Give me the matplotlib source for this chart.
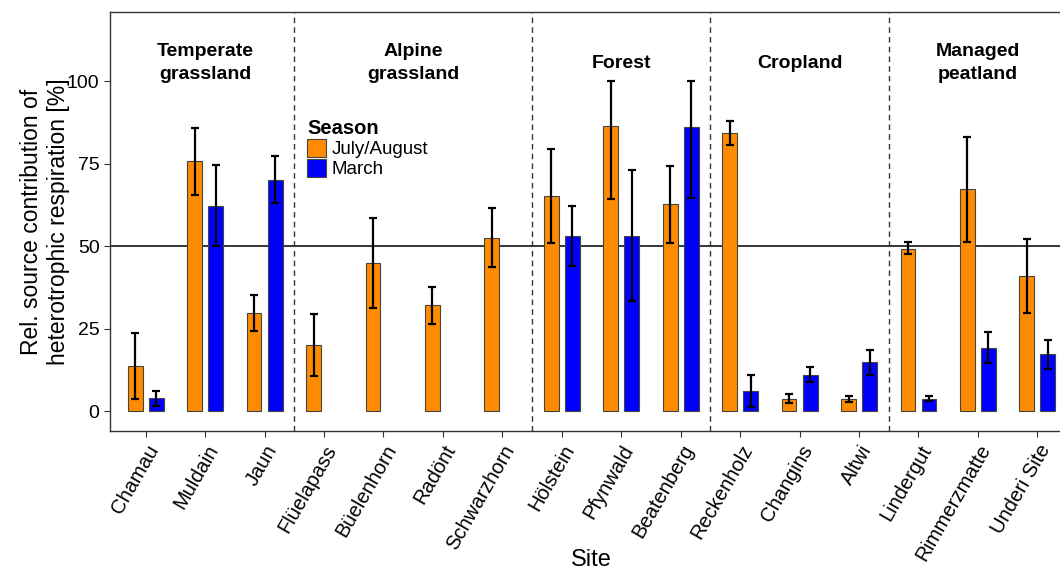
import matplotlib.pyplot as plt
import numpy as np

# data
sites = ["Chamau", "Muldain", "Jaun", "Flüelapass", "Büelenhorn", "Radönt",
         "Schwarzhorn", "Hölstein", "Pfynwald", "Beatenberg", "Reckenholz",
         "Changins", "Altwi", "Lindergut", "Rimmerzmatte", "Underi Site"]
groups = ["Temperate\ngrassland", "Alpine\ngrassland", "Forest", "Cropland", "Managed\npeatland"]
group_sizes = [3, 4, 3, 3, 3]

# July/August
summer = [13.8, 75.7, 29.9, 20.0, 45.0, 32.1, 52.6, 65.2, 86.4, 62.7, 84.4, 3.8, 3.7, 49.3, 67.2, 41.1]
summer_lo = [3.7, 65.6, 24.4, 10.8, 31.4, 26.5, 43.8, 51.0, 64.4, 51.0, 80.8, 2.4, 2.8, 47.6, 51.3, 29.8]
summer_hi = [23.8, 85.8, 35.2, 29.4, 58.6, 37.7, 61.6, 79.5, 100.0, 74.3, 88.1, 5.1, 4.5, 51.2, 83.2, 52.2]

# March (nan = no measurement)
march = [3.9, 62.3, 70.2, np.nan, np.nan, np.nan, np.nan, 53.1, 53.1, 86.0, 6.2, 11.0, 14.9, 3.8, 19.3, 17.2]
march_lo = [1.7, 50.0, 63.2, np.nan, np.nan, np.nan, np.nan, 44.0, 33.4, 64.6, 1.4, 8.7, 11.1, 3.1, 14.5, 12.9]
march_hi = [6.1, 74.7, 77.5, np.nan, np.nan, np.nan, np.nan, 62.3, 73.0, 100.0, 10.9, 13.5, 18.7, 4.5, 24.1, 21.5]


def main():
    plt.rcParams['font.family'] = ['Liberation Sans', 'DejaVu Sans']

    fig = plt.figure(figsize=(10.6, 5.71), dpi=100)
    ax = fig.add_axes([0.1038, 0.2452, 0.9085, 0.7338])

    x = np.arange(len(sites))
    w = 0.25
    off = 0.177
    s = np.array(summer)
    m = np.array(march)

    ax.axhline(50, color='black', lw=1.1, zorder=1)

    ax.bar(x - off, s, width=w, color='#FF8C00', edgecolor='#444444', lw=0.8,
           label='July/August', zorder=2)
    ax.bar(x + off, m, width=w, color='#0000FF', edgecolor='#444444', lw=0.8,
           label='March', zorder=2)

    ax.errorbar(x - off, s, yerr=[s - np.array(summer_lo), np.array(summer_hi) - s],
                fmt='none', ecolor='black', elinewidth=1.6, capsize=3, capthick=1.6, zorder=3)
    ax.errorbar(x + off, m, yerr=[m - np.array(march_lo), np.array(march_hi) - m],
                fmt='none', ecolor='black', elinewidth=1.6, capsize=3, capthick=1.6, zorder=3)

    # group separators and group titles
    edges = np.cumsum(group_sizes)
    for e in edges[:-1]:
        ax.axvline(e - 0.5, color='#333333', lw=1, ls=(0, (4, 3)), zorder=1)
    start = 0
    for name, n in zip(groups, group_sizes):
        ax.text(start + (n - 1) / 2, 105.5, name, ha='center', va='center',
                fontsize=14, fontweight='bold', linespacing=1.45)
        start += n

    ax.set_xlim(-0.6, 15.6)
    ax.set_ylim(-6, 121)
    ax.set_yticks([0, 25, 50, 75, 100])
    ax.set_xticks(x)
    ax.set_xticklabels(sites, rotation=60, ha='right', rotation_mode='anchor', fontsize=14.5)
    ax.tick_params(axis='y', labelsize=14, length=4, color='#333333')
    ax.tick_params(axis='x', length=4, color='#333333')
    for sp in ax.spines.values():
        sp.set_color('#333333')
        sp.set_linewidth(1)

    fig.text(591 / 1060, 1 - 560 / 571, 'Site', ha='center', va='center', fontsize=17)
    ax.set_ylabel('Rel. source contribution of\nheterotrophic respiration [%]', fontsize=16.5)
    ax.yaxis.set_label_coords(-0.042, 0.5)

    leg = ax.legend(title='Season', loc='upper left', bbox_to_anchor=(0.205, 0.745),
                    frameon=False, fontsize=13.5, title_fontsize=14.5, handlelength=1.0,
                    handleheight=1.1, handletextpad=0.3, labelspacing=0.05,
                    borderaxespad=0, borderpad=0)
    leg.get_title().set_fontweight('bold')
    leg._legend_box.align = 'left'

    fig.savefig('out.png', dpi=100)


if __name__ == "__main__":
    main()
